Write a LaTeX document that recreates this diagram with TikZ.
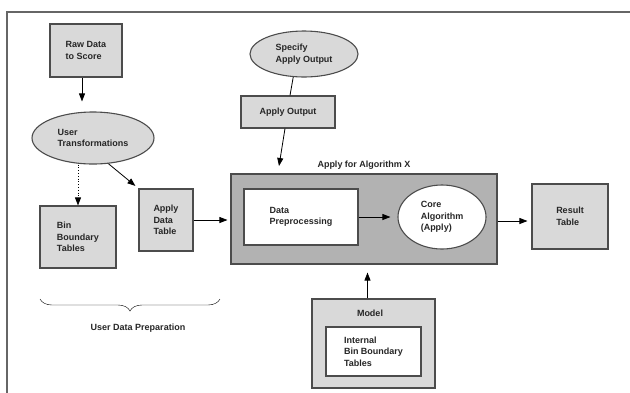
\documentclass[tikz,border=0pt]{standalone}
\usepackage{fontspec}
\setmainfont{Liberation Sans}
\usetikzlibrary{positioning,arrows.meta,decorations.pathreplacing,shapes.geometric}
\definecolor{boxgray}{gray}{0.85}
\definecolor{framegray}{gray}{0.70}
\definecolor{edgegray}{gray}{0.30}

\tikzset{
  every node/.style={font=\fontsize{9}{11.5}\selectfont\bfseries, text=black!85, align=left},
  graybox/.style={draw=edgegray, line width=1.1pt, fill=boxgray, inner sep=0pt},
  whitebox/.style={draw=edgegray, line width=1.1pt, fill=white, inner sep=0pt},
  grayoval/.style={ellipse, draw=edgegray, line width=1.1pt, fill=boxgray, inner sep=0pt},
  arr/.style={-{Triangle[length=8pt,width=6pt]}, line width=0.8pt},
}

\begin{document}
\begin{tikzpicture}[x=1pt,y=-1pt]
\useasboundingbox (0,0) rectangle (630,392);
\draw[line width=1.2pt, draw=black!60] (7,12) rectangle (640,400); %%% outer frame

%%% left column
\node[graybox, minimum width=72pt, minimum height=53pt] (rawdata) at (86,50.5) {Raw Data\\to Score};
\node[grayoval, minimum width=122pt, minimum height=52pt] (usertrans) at (93,138) {User\\Transformations};
\node[graybox, minimum width=76pt, minimum height=62pt] (bintab) at (78,237) {Bin\\Boundary\\Tables};
\node[graybox, minimum width=54pt, minimum height=62pt] (applydata) at (166,220) {Apply\\Data\\Table};

\draw[arr, shorten >=10pt] ([xshift=-4pt]rawdata.south) -- ([xshift=-4pt]rawdata.south |- usertrans.north);
\draw[arr, dotted] (usertrans.south -| bintab.north) -- (bintab.north);
\draw[arr, shorten >=4pt] (usertrans.-59) -- (applydata.north west);

\draw [decorate,decoration={brace,amplitude=12pt}] %%% PREPARATION BRACE
(220,299) coordinate (bracer) -- (40,299) coordinate (bracel);
\node (prep) at (138,328) {User Data Preparation};

%%% output spec
\node[grayoval, minimum width=108pt, minimum height=46pt] (specify) at (304,54) {Specify\\Apply Output};
\node[graybox, minimum width=94pt, minimum height=32pt] (applyout) at (288,112) {Apply Output};
\coordinate (applyin) at (279,166);
\draw[line width=0.8pt] (specify.245) -- ([xshift=2pt]applyout.north);
\draw[arr] ([xshift=-3pt]applyout.south) -- (applyin);

%%% algorithm box
\node[draw=edgegray, line width=1.1pt, fill=framegray, minimum width=266pt, minimum height=90pt,
  label={[yshift=1pt]above:Apply for Algorithm X}] (applybox) at (364,219) {};
\node[whitebox, minimum width=114pt, minimum height=56pt] (preproc) at (301,217) {Data\\Preprocessing};
\node[ellipse, draw=edgegray, line width=1.1pt, fill=white, inner sep=0pt,
  minimum width=88pt, minimum height=64pt] (core) at (442,217) {Core\\Algorithm\\(Apply)};
\node[graybox, minimum width=76pt, minimum height=65pt] (result) at (570,216.5) {Result\\Table};

\draw[arr, shorten >=3pt] (applydata.east) -- (applydata.east -| applybox.west);
\draw[arr, shorten >=7pt] (preproc.east) -- (core.west);
\draw[arr, shorten >=4pt] ([yshift=-2pt]applybox.east) -- ([yshift=-2pt]applybox.east -| result.west);

%%% model
\node[graybox, minimum width=123pt, minimum height=89pt] (model) at (373.5,343.5) {};
\node (modellbl) at (370,313) {Model};
\node[whitebox, minimum width=95pt, minimum height=49pt] (internal) at (373.5,351.5) {Internal\\Bin Boundary\\Tables};
\draw[arr, shorten >=8pt] ([xshift=-6pt]model.north) -- ([xshift=-6pt]model.north |- applybox.south);
\end{tikzpicture}
\end{document}
